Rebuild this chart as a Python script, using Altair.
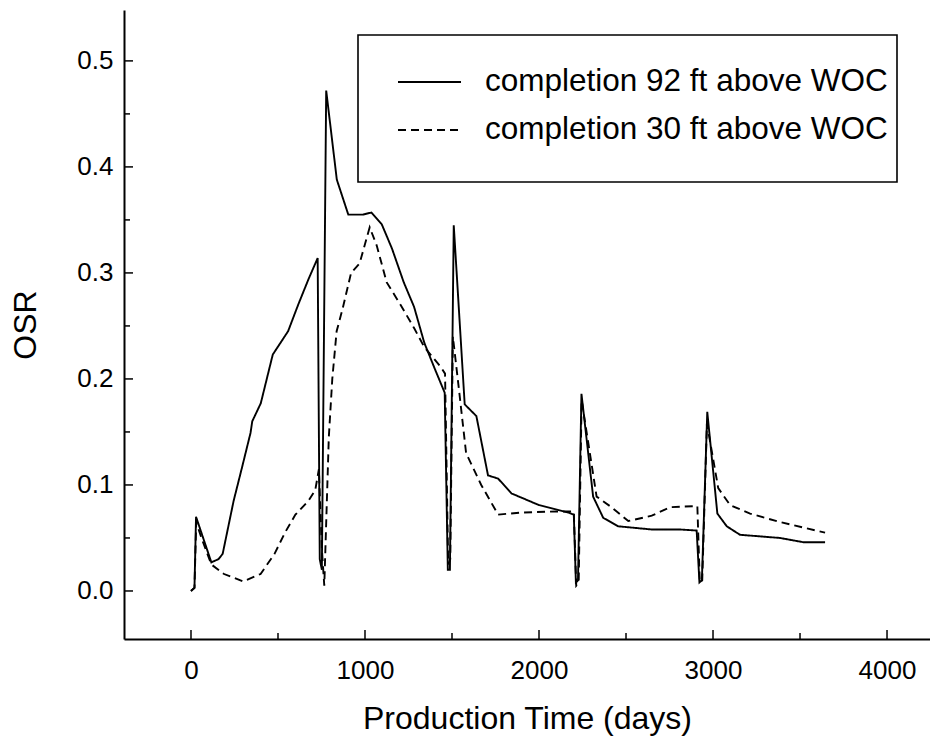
import altair as alt
import pandas as pd

# ---- data ----
label_92 = "completion 92 ft above WOC"
label_30 = "completion 30 ft above WOC"

solid_days = [0, 20, 29, 117, 158, 182, 245, 294, 342, 352, 401, 470, 558, 616, 675, 728,
              740, 752, 777, 838, 904, 988, 1037, 1096, 1155, 1223, 1282, 1341, 1400, 1458,
              1476, 1488, 1510, 1573, 1640, 1707, 1765, 1842, 2000, 2168, 2200, 2212, 2224,
              2244, 2311, 2369, 2455, 2648, 2810, 2906, 2922, 2936, 2967, 3025, 3079, 3155,
              3385, 3519, 3644]
solid_osr = [0.0, 0.003, 0.070, 0.027, 0.030, 0.035, 0.085, 0.117, 0.149, 0.160, 0.177, 0.223,
             0.245, 0.270, 0.294, 0.314, 0.030, 0.020, 0.472, 0.388, 0.355, 0.355, 0.357, 0.346,
             0.323, 0.291, 0.268, 0.234, 0.210, 0.187, 0.020, 0.020, 0.345, 0.176, 0.165, 0.109,
             0.106, 0.092, 0.081, 0.074, 0.072, 0.008, 0.010, 0.186, 0.089, 0.069, 0.061, 0.058,
             0.058, 0.057, 0.008, 0.010, 0.169, 0.073, 0.061, 0.053, 0.050, 0.046, 0.046]

dash_days = [0, 20, 30, 60, 117, 190, 300, 400, 480, 540, 600, 675, 714, 735, 752, 766, 792,
             812, 837, 871, 920, 969, 1027, 1067, 1125, 1204, 1282, 1341, 1437, 1460, 1478,
             1490, 1505, 1540, 1581, 1668, 1765, 1900, 2100, 2200, 2214, 2228, 2245, 2331,
             2417, 2513, 2648, 2753, 2887, 2910, 2924, 2938, 2965, 3030, 3098, 3213, 3385, 3644]
dash_osr = [0.0, 0.003, 0.065, 0.050, 0.025, 0.016, 0.009, 0.016, 0.035, 0.055, 0.072, 0.085,
            0.095, 0.115, 0.040, 0.005, 0.145, 0.200, 0.245, 0.266, 0.300, 0.309, 0.343, 0.326,
            0.291, 0.270, 0.248, 0.230, 0.211, 0.205, 0.025, 0.030, 0.240, 0.190, 0.130, 0.100,
            0.072, 0.074, 0.075, 0.075, 0.005, 0.008, 0.180, 0.089, 0.079, 0.066, 0.071, 0.079,
            0.080, 0.080, 0.008, 0.010, 0.158, 0.097, 0.081, 0.073, 0.065, 0.055]

x_major = [0, 1000, 2000, 3000, 4000]
x_minor = [500, 1500, 2500, 3500]
y_major = [0.0, 0.1, 0.2, 0.3, 0.4, 0.5]
y_minor = [0.05, 0.15, 0.25, 0.35, 0.45]

X_DOMAIN = [-385, 4247]
Y_DOMAIN = [-0.0453, 0.548]
W, H = 806, 629
FONT = "Liberation Sans"

df = pd.concat([
    pd.DataFrame({"day": solid_days, "osr": solid_osr, "series": label_92}),
    pd.DataFrame({"day": dash_days, "osr": dash_osr, "series": label_30}),
], ignore_index=True)

xs = alt.Scale(domain=X_DOMAIN, nice=False, zero=False)
ys = alt.Scale(domain=Y_DOMAIN, nice=False, zero=False)

# legend frame (decoration)
frame = alt.Chart(pd.DataFrame({"k": [0]})).mark_rect(
    fill="white", stroke="black", strokeWidth=1.6).encode(
    x=alt.value(234), x2=alt.value(773), y=alt.value(25), y2=alt.value(172))

lines = alt.Chart(df).mark_line(color="black", strokeWidth=1.9, clip=True).encode(
    x=alt.X("day:Q", scale=xs,
            axis=alt.Axis(title="Production Time (days)", values=x_major, format="d",
                          ticks=False, grid=False, labelPadding=18, titlePadding=20)),
    y=alt.Y("osr:Q", scale=ys,
            axis=alt.Axis(title="OSR", values=y_major, format=".1f",
                          ticks=False, grid=False, labelPadding=11, titlePadding=34)),
    strokeDash=alt.StrokeDash(
        "series:N",
        scale=alt.Scale(domain=[label_92, label_30], range=[[1, 0], [8, 5]]),
        legend=alt.Legend(title=None, orient="none", legendX=273, legendY=55,
                          padding=0, symbolType="stroke", symbolSize=3969,
                          symbolStrokeWidth=1.8, symbolStrokeColor="black",
                          clipHeight=34, rowPadding=14, symbolOffset=0, labelOffset=23,
                          labelFontSize=31.5, labelFont=FONT, labelColor="black",
                          labelLimit=700),
    ),
)

ytick_major = alt.Chart(pd.DataFrame({"v": y_major})).mark_rule(color="black", strokeWidth=1.5).encode(
    y=alt.Y("v:Q", scale=ys), x=alt.value(0), x2=alt.value(9))
ytick_minor = alt.Chart(pd.DataFrame({"v": y_minor})).mark_rule(color="black", strokeWidth=1.5).encode(
    y=alt.Y("v:Q", scale=ys), x=alt.value(0), x2=alt.value(6))
xtick_major = alt.Chart(pd.DataFrame({"v": x_major})).mark_rule(color="black", strokeWidth=1.5).encode(
    x=alt.X("v:Q", scale=xs), y=alt.value(H), y2=alt.value(H - 9))
xtick_minor = alt.Chart(pd.DataFrame({"v": x_minor})).mark_rule(color="black", strokeWidth=1.5).encode(
    x=alt.X("v:Q", scale=xs), y=alt.value(H), y2=alt.value(H - 6))

chart = alt.layer(frame, lines, ytick_major, ytick_minor, xtick_major, xtick_minor).properties(
    width=W, height=H,
    autosize=alt.AutoSizeParams(type="none"),
    padding={"left": 116, "top": 2, "right": 0, "bottom": 101},
    background="white",
).configure_view(stroke=None).configure_axis(
    domainColor="black", domainWidth=2,
    labelFont=FONT, labelFontSize=26, labelColor="black",
    titleFont=FONT, titleFontSize=32, titleFontWeight="normal", titleColor="black",
)

chart.save("out.html", embed_options={"renderer": "svg", "actions": False})
